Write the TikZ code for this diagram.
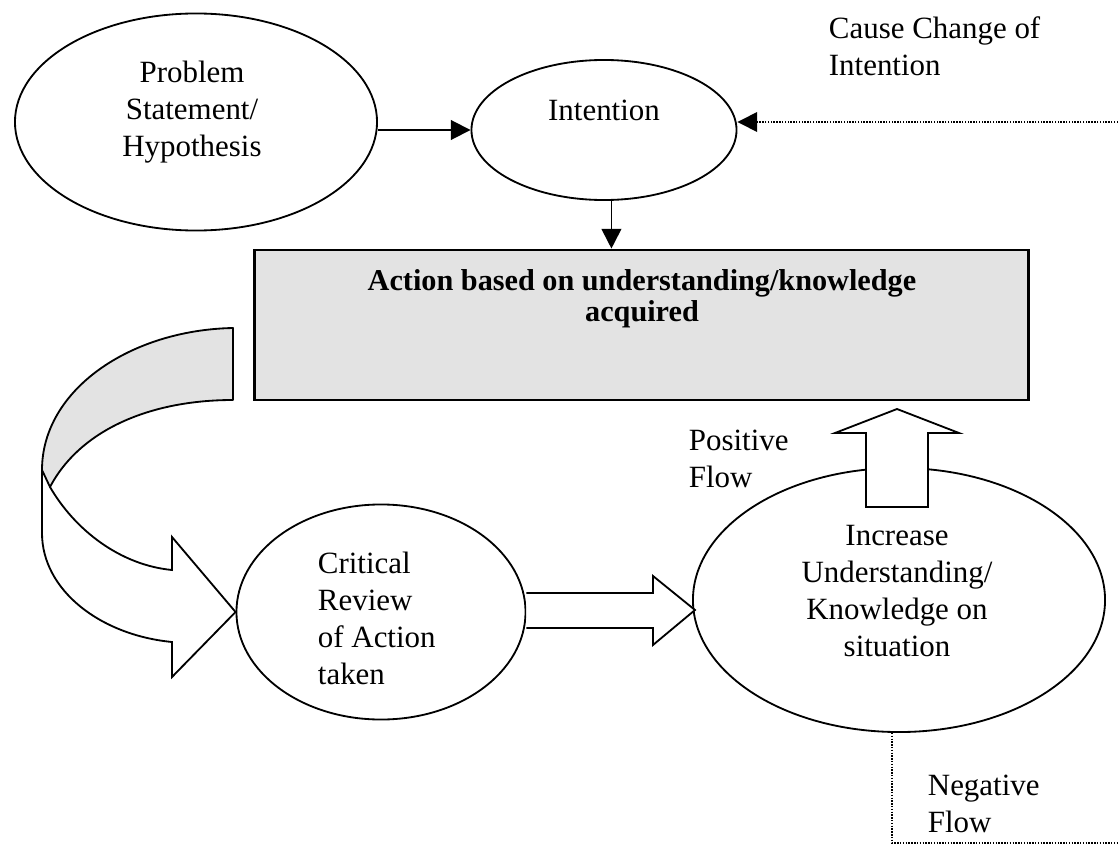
\documentclass[tikz,border=0pt]{standalone}
\usepackage{fontspec}
\setmainfont{Liberation Serif}
\usetikzlibrary{arrows.meta}
\usetikzlibrary{shapes.geometric}

\begin{document}
\begin{tikzpicture}[x=0.025cm, y=-0.025cm, line width=1.3pt,
        font=\fontsize{22}{26.3}\selectfont,
        >={Triangle[length=14pt,width=14pt]},
        oval/.style={draw, ellipse, inner sep=0pt},
        txt/.style={align=center, inner sep=0pt},
        lefttxt/.style={align=left, inner sep=0pt, anchor=west},
        blockarrow/.style={draw, fill=white, line join=miter},
        stipple/.style={fill=gray!22}]
        \useasboundingbox (0,0) rectangle (1120,855);

        \draw (196,122) node[oval, minimum width=9.05cm, minimum height=5.425cm] (prob) {};
        \draw (192,112) node[txt] (probtxt) {Problem\\Statement/\\Hypothesis};

        \draw (604,130) node[oval, minimum width=6.625cm, minimum height=3.5cm] (intent) {};
        \draw (604,110) node[txt] (intenttxt) {Intention};

        \draw (641.5,325) node[draw, line width=2pt, stipple, minimum width=19.325cm, minimum height=3.75cm, inner sep=0pt] (action) {};
        \draw (642,299) node[txt, font=\bfseries\fontsize{21.5}{22}\selectfont] (actiontxt) {Action based on understanding/knowledge\\acquired};

        \draw (381,612) node[oval, minimum width=7.225cm, minimum height=5.375cm] (review) {};
        \draw (317,618) node[lefttxt] (reviewtxt) {Critical\\Review\\of Action\\taken};

        \draw (899,600) node[oval, minimum width=10.3cm, minimum height=6.6cm] (know) {};
        \draw (897,591) node[txt] (knowtxt) {Increase\\Understanding/\\Knowledge on\\situation};

        \draw (828,46) node[lefttxt] (cause) {Cause Change of\\Intention};
        \draw (688,459) node[lefttxt] (pos) {Positive\\Flow};
        \draw (927,804) node[lefttxt] (neg) {Negative\\Flow};

        \coordinate (causeend) at (1118,122);
        \coordinate (negend) at (1118,843);

        \draw[->] (prob.east |- intent.west) -- (intent.west);
        \draw[->] (intent.-84) -- (intent.-84 |- action.north);
        \draw[->, densely dotted, line width=1pt] (causeend) -- (causeend -| intent.east);
        \draw[densely dotted, line width=1pt] (know.-93) |- (negend);

        % block arrows
        \draw[blockarrow] (866,507) -- (866,433) -- (835,433) -- (897,409) -- (959,433) -- (928,433) -- (928,507) -- cycle;
        \draw[blockarrow] (review.east |- 0,593) -- (653,593) -- (653,576) -- (695,610) -- (653,645) -- (653,628) -- (review.east |- 0,628);

        % curved ribbon arrow
        \draw[stipple, line join=round] (233,328) .. controls (130,330) and (42,390) .. (42,470) -- (50,487) .. controls (80,430) and (150,400) .. (233,400) -- cycle;
        \draw[line join=miter] (42,470) -- (42,533) .. controls (42,590) and (100,635) .. (172,642) -- (172,677) -- (review.west) -- (172,537) -- (172,570) .. controls (120,565) and (75,530) .. (50,487);
\end{tikzpicture}
\end{document}
